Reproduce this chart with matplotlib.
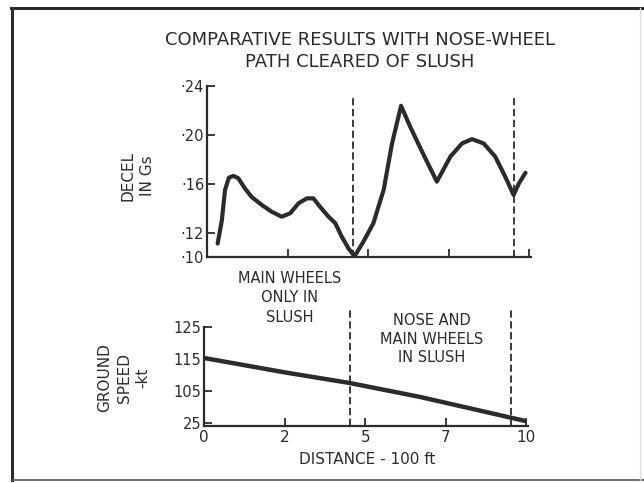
import matplotlib.pyplot as plt
from matplotlib.lines import Line2D

# Dữ liệu
decel_x = [0.33, 0.46, 0.56, 0.68, 0.82, 0.97, 1.18, 1.39, 1.70, 2.01, 2.32, 2.58,
           2.84, 3.10, 3.30, 3.51, 3.77, 3.98, 4.18, 4.39, 4.57, 4.60, 4.85, 5.16,
           5.48, 5.74, 6.02, 6.30, 6.72, 7.13, 7.55, 7.91, 8.22, 8.58, 8.94, 9.25,
           9.51, 9.67, 9.88]
decel_g = [0.111, 0.130, 0.155, 0.165, 0.1664, 0.1645, 0.156, 0.149, 0.1426, 0.137,
           0.133, 0.1358, 0.144, 0.148, 0.148, 0.141, 0.133, 0.1276, 0.1166, 0.107,
           0.1008, 0.1016, 0.1125, 0.1276, 0.155, 0.193, 0.2238, 0.2068, 0.1836,
           0.1617, 0.1822, 0.193, 0.1965, 0.193, 0.1822, 0.1658, 0.1508, 0.160,
           0.169]

speed_x = [0, 2.5, 4.5, 6.7, 10]
speed_kt = [115.3, 110.8, 107.5, 103.1, 95.5]

section_bounds = [4.52, 9.52]

decel_ticks = [0.10, 0.12, 0.16, 0.20, 0.24]
decel_labels = ["·10", "·12", "·16", "·20", "·24"]
speed_ticks = [95, 105, 115, 125]
speed_labels = ["25", "105", "115", "125"]
dist_ticks = [0, 2.5, 5, 7.5, 10]
dist_labels = ["0", "2", "5", "7", "10"]

ink = "#2b2b2b"
W, H = 644, 483

plt.rcParams["font.family"] = ["DejaVu Sans"]
fig = plt.figure(figsize=(W / 100, H / 100), dpi=100)
fig.patch.set_facecolor("white")


def px(x0, y_top, x1, y_bot):
    return [x0 / W, 1 - y_bot / H, (x1 - x0) / W, (y_bot - y_top) / H]


def style_axes(ax):
    for s in ["top", "right"]:
        ax.spines[s].set_visible(False)
    for s in ["left", "bottom"]:
        ax.spines[s].set_color(ink)
        ax.spines[s].set_linewidth(1.6)
    ax.tick_params(direction="in", colors=ink, width=1.3, length=6,
                   labelsize=10.5, pad=2)
    ax.set_facecolor("none")


# Biểu đồ trên: gia tốc hãm
ax1 = fig.add_axes(px(207, 86, 531, 257))
style_axes(ax1)
ax1.plot(decel_x, decel_g, color=ink, lw=3, solid_joinstyle="round",
         solid_capstyle="round")
for xb in section_bounds:
    ax1.axvline(xb, ymin=0, ymax=0.947, color=ink, lw=1.3, ls=(0, (4, 2)))
ax1.set_xlim(0, 10.05)
ax1.set_ylim(0.10, 0.24)
ax1.set_yticks(decel_ticks)
ax1.set_yticklabels(decel_labels)
ax1.set_xticks(dist_ticks[1:])
ax1.set_xticklabels([])

# Biểu đồ dưới: tốc độ mặt đất
ax2 = fig.add_axes(px(204, 327, 528, 426))
style_axes(ax2)
ax2.plot(speed_x, speed_kt, color=ink, lw=3.2, solid_capstyle="butt")
for xb in section_bounds:
    ax2.axvline(xb, ymin=0, ymax=1.19, color=ink, lw=1.3, ls=(0, (4, 2)),
                clip_on=False)
ax2.set_xlim(0, 10.05)
ax2.set_ylim(94, 125)
ax2.set_yticks(speed_ticks)
ax2.set_yticklabels(speed_labels)
ax2.set_xticks(dist_ticks)
ax2.set_xticklabels(dist_labels, fontsize=11)
ax2.tick_params(axis="x", pad=3)

# Chữ
fig.text(360 / W, 1 - 51 / H, "COMPARATIVE RESULTS WITH NOSE-WHEEL\nPATH CLEARED OF SLUSH",
         ha="center", va="center", fontsize=13, color=ink, linespacing=1.25)
fig.text(138 / W, 1 - 176 / H, "DECEL\nIN Gs", rotation=90, ha="center",
         va="center", fontsize=11, color=ink, linespacing=1.4)
fig.text(124 / W, 1 - 378 / H, "GROUND\nSPEED\n-kt", rotation=90, ha="center",
         va="center", fontsize=11, color=ink, linespacing=1.35)
fig.text(290 / W, 1 - 298 / H, "MAIN WHEELS\nONLY IN\nSLUSH", ha="center",
         va="center", fontsize=10.5, color=ink, linespacing=1.35)
fig.text(432 / W, 1 - 339 / H, "NOSE AND\nMAIN WHEELS\nIN SLUSH", ha="center",
         va="center", fontsize=10.5, color=ink, linespacing=1.3)
fig.text(367 / W, 1 - 459 / H, "DISTANCE - 100 ft", ha="center", va="center",
         fontsize=11, color=ink)

# Khung viền
fig.add_artist(Line2D([12 / W, 12 / W], [1 - 480 / H, 1 - 8 / H], color=ink, lw=2.2))
fig.add_artist(Line2D([11 / W, 1], [1 - 8 / H, 1 - 8 / H], color=ink, lw=2.2))
fig.add_artist(Line2D([12 / W, 1], [1 - 480 / H, 1 - 480 / H], color="#555555", lw=1.2))
fig.add_artist(Line2D([640 / W, 640 / W], [1 - 480 / H, 1 - 8 / H], color="#dddddd", lw=1))

fig.savefig("out.png", dpi=100, facecolor=fig.get_facecolor())
